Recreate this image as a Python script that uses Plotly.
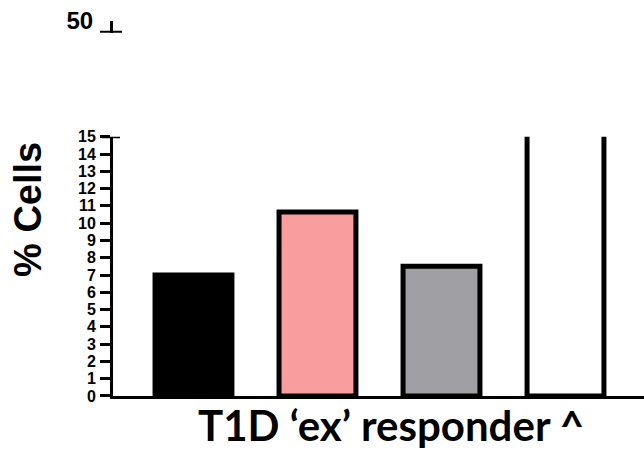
import plotly.graph_objects as go

categories = ["A", "B", "C", "D"]
values = [7.0, 10.65, 7.5, 40.0]
fill_colors = ["#000000", "#F99D9F", "#A09FA3", "#FFFFFF"]
lower_ticks = list(range(0, 16))
upper_ticks = [50]

W, H = 644, 462
L, R, T, B = 113, 0, 10, 66
ph = H - T - B
def py(ypix):
    return (H - B - ypix) / ph

lower_top = py(134)
upper_dom = [py(29), py(17)]

fig = go.Figure()
fig.add_trace(go.Bar(
    x=list(range(len(categories))), y=values,
    marker=dict(color=fill_colors, line=dict(color="black", width=5)),
    width=0.62, showlegend=False, xaxis="x", yaxis="y",
))

fig.update_layout(
    width=W, height=H,
    margin=dict(l=L, r=R, t=T, b=B),
    plot_bgcolor="white", paper_bgcolor="white",
    xaxis=dict(range=[-0.649, 3.633], showline=True, linewidth=3, linecolor="black",
               showticklabels=False, ticks="", showgrid=False, zeroline=False, anchor="y"),
    yaxis=dict(range=[0, 15], domain=[0, lower_top], tickvals=lower_ticks,
               ticks="outside", ticklen=10, tickwidth=3, tickcolor="black",
               showline=True, linewidth=3, linecolor="black", showgrid=False, zeroline=False,
               ticklabelstandoff=1,
               tickfont=dict(family="Liberation Sans", size=16, color="black", weight="bold")),
    yaxis2=dict(range=[44, 50], domain=upper_dom, tickvals=upper_ticks, ticks="",
                showline=True, linewidth=3, linecolor="black", showgrid=False, zeroline=False,
                anchor="x", ticklabelstandoff=12,
                tickfont=dict(family="Liberation Sans", size=24, color="black", weight="bold")),
    shapes=[
        dict(type="line", xref="paper", yref="y", x0=-11/531, x1=7/531, y0=15, y1=15,
             line=dict(color="black", width=3)),
        dict(type="line", xref="paper", yref="y2", x0=-13/531, x1=9/531, y0=44, y1=44,
             line=dict(color="black", width=4)),
    ],
    annotations=[
        dict(text="<b>% Cells</b>", xref="paper", yref="paper", x=(28 - L) / 531, y=py(208),
             xanchor="center", yanchor="middle",
             textangle=-90, showarrow=False,
             font=dict(family="Liberation Sans", size=38, color="black")),
        dict(text="<b>T1D ‘ex’ responder ^</b>", xref="paper", yref="paper",
             x=(391 - L) / 531, y=py(425), xanchor="center", yanchor="middle", showarrow=False,
             font=dict(family="Lato", size=42, color="black")),
    ],
)

fig.write_html("out.html")
